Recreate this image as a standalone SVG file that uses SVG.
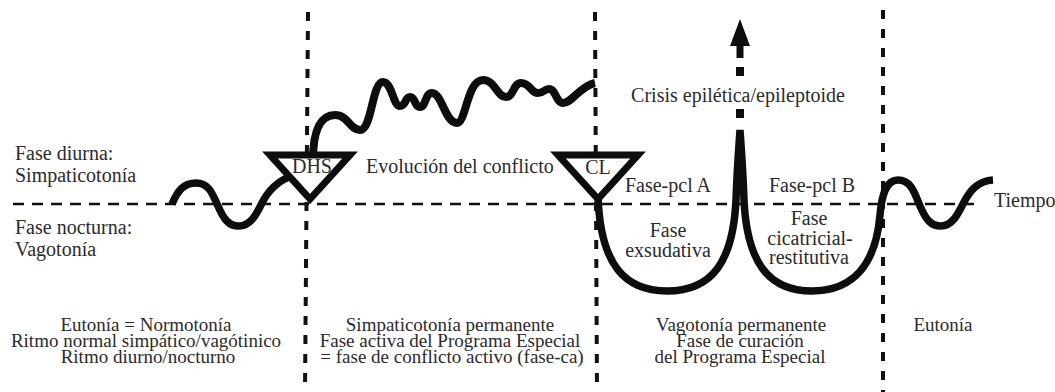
<svg xmlns="http://www.w3.org/2000/svg" width="1055" height="392" viewBox="0 0 1055 392">
<style>
.t{font-family:'Liberation Serif','DejaVu Serif',serif;font-size:20px;fill:#2b2b2b}
.b{font-size:19px}
.m{text-anchor:middle}
.vd{stroke:#111;stroke-width:4;stroke-dasharray:9 10;fill:none}
.hd{stroke:#111;stroke-width:2.6;stroke-dasharray:11 8;fill:none}
.cv{stroke:#0d0d0d;stroke-width:7.5;fill:none;stroke-linecap:butt;stroke-linejoin:round}
.tri{stroke:#0d0d0d;stroke-width:7;fill:#fff;stroke-linejoin:miter}
</style>
<rect width="1055" height="392" fill="#fff"/>
<g id="connectors">
  <line class="hd" x1="13" y1="204" x2="976" y2="204"/>
  <line class="vd" x1="308" y1="12" x2="305" y2="392"/>
  <line class="vd" x1="595" y1="12" x2="597" y2="392"/>
  <line class="vd" x1="883" y1="10" x2="883" y2="392"/>
  <path id="wave-left" class="cv" d="M172,204 C178,190 184,183 196,183 C210,183 213,196 218,206 C224,220 229,226 239,226 C250,226 256,215 261,205 C267,192 276,181 294,175"/>
  <path id="wave-conflict" class="cv" style="stroke-width:8" d="M313,160 C313,128 322,115 335,115 C348,115 350,130 360,130 C372,130 372,82 383,82 C392,82 393,106 400,106 C406,106 405,97 410,97 C416,97 414,107 420,107 C426,107 425,93 432,93 C442,93 445,123 457,123 C466,123 467,80 483,80 C495,80 497,97 506,97 C514,97 513,83 521,83 C530,83 531,93 538,93 C544,93 544,89 549,89 C556,89 556,103 563,103 C572,103 580,86 595,83"/>
  <path id="wave-repair" class="cv" style="stroke-linejoin:miter" d="M598,195 C600,265 625,291 667,291 C712,291 733,262 736,200 C737,170 739,145 740,130 C741,145 743,170 744,200 C747,262 768,291 812,291 C855,291 876,262 880,215 C882,192 887,180 898,180 C912,180 915,195 920,206 C926,220 931,226 941,226 C952,226 958,214 963,204 C970,190 978,181 993,180"/>
  <g id="crisis-arrow" fill="#0d0d0d" stroke="#0d0d0d">
    <polygon points="740,19 730,46 750,46" stroke="none"/>
    <line x1="740" y1="44" x2="740" y2="58" stroke-width="7"/>
    <line x1="740" y1="67" x2="740" y2="76" stroke-width="8"/>
    <line x1="740" y1="109" x2="740" y2="118" stroke-width="8"/>
  </g>
</g>
<g id="node-dhs">
  <polygon class="tri" points="270,155 350,155 310,199"/>
  <text class="t m" x="312" y="173">DHS</text>
</g>
<g id="node-cl">
  <polygon class="tri" points="558,155 638,155 598,199"/>
  <text class="t m" x="598" y="174">CL</text>
</g>
<g id="labels">
  <text class="t" x="15" y="160">Fase diurna:</text>
  <text class="t" x="15" y="182">Simpaticotonía</text>
  <text class="t" x="15" y="234">Fase nocturna:</text>
  <text class="t" x="15" y="256">Vagotonía</text>
  <text class="t" x="366" y="173">Evolución del conflicto</text>
  <text class="t m" x="738" y="102">Crisis epilética/epileptoide</text>
  <text class="t m" x="668" y="192">Fase-pcl A</text>
  <text class="t m" x="812" y="192">Fase-pcl B</text>
  <text class="t m" x="668" y="237">Fase</text>
  <text class="t m" x="668" y="257">exsudativa</text>
  <text class="t m" x="809" y="225">Fase</text>
  <text class="t m" x="810" y="245">cicatricial-</text>
  <text class="t m" x="809" y="264">restitutiva</text>
  <text class="t" x="994" y="207">Tiempo</text>
  <text class="t b m" x="146" y="331">Eutonía = Normotonía</text>
  <text class="t b m" x="146" y="347">Ritmo normal simpático/vagótinico</text>
  <text class="t b m" x="148" y="363">Ritmo diurno/nocturno</text>
  <text class="t b m" x="450" y="331">Simpaticotonía permanente</text>
  <text class="t b m" x="450" y="347">Fase activa del Programa Especial</text>
  <text class="t b m" x="452" y="363">= fase de conflicto activo (fase-ca)</text>
  <text class="t b m" x="741" y="331">Vagotonía permanente</text>
  <text class="t b m" x="740" y="347">Fase de curación</text>
  <text class="t b m" x="740" y="363">del Programa Especial</text>
  <text class="t b m" x="943" y="331">Eutonía</text>
</g>
</svg>
